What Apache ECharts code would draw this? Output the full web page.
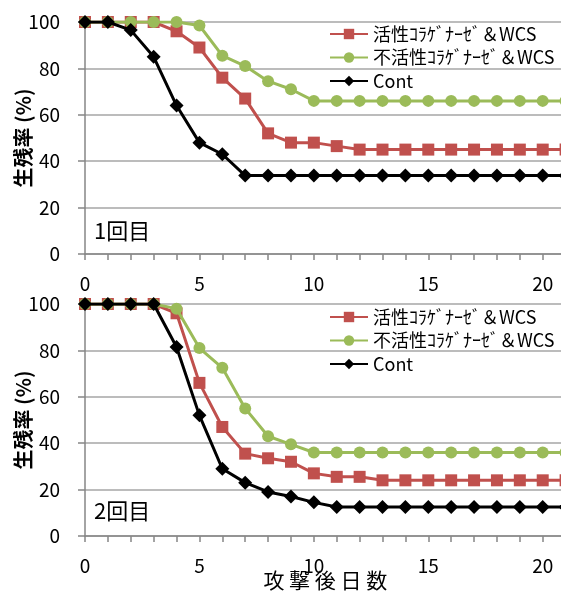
<!DOCTYPE html>
<html>
<head>
<meta charset="utf-8">
<script src="https://cdn.jsdelivr.net/npm/echarts@6/dist/echarts.min.js"></script>
<style>
  html, body { margin: 0; padding: 0; background: #fff; }
  #chart { width: 561px; height: 591px; }
</style>
</head>
<body>
<div id="chart"></div>
<script>
// days after attack
const days = [0, 1, 2, 3, 4, 5, 6, 7, 8, 9, 10, 11, 12, 13, 14, 15, 16, 17, 18, 19, 20, 21];
const seriesNames = ['活性ｺﾗｹﾞﾅｰｾﾞ＆WCS', '不活性ｺﾗｹﾞﾅｰｾﾞ＆WCS', 'Cont'];
const panelLabels = ['1回目', '2回目'];
const yTicks = [0, 20, 40, 60, 80, 100];

// 1回目
const active1 = [100, 100, 100, 100, 96, 89, 76, 67, 52, 48, 48, 46.5, 45, 45, 45, 45, 45, 45, 45, 45, 45, 45];
const inactive1 = [100, 100, 100, 100, 100, 98.5, 85.5, 81, 74.5, 71, 66, 66, 66, 66, 66, 66, 66, 66, 66, 66, 66, 66];
const cont1 = [100, 100, 96.5, 85, 64, 48, 43, 33.8, 33.8, 33.8, 33.8, 33.8, 33.8, 33.8, 33.8, 33.8, 33.8, 33.8, 33.8, 33.8, 33.8, 33.8];

// 2回目
const active2 = [100, 100, 100, 100, 96, 66, 47, 35.5, 33.5, 32, 27, 25.5, 25.5, 24, 24, 24, 24, 24, 24, 24, 24, 24];
const inactive2 = [100, 100, 100, 100, 98, 81, 72.5, 55, 43, 39.5, 36, 36, 36, 36, 36, 36, 36, 36, 36, 36, 36, 36];
const cont2 = [100, 100, 100, 100, 81.5, 52, 29, 23, 19, 17, 14.5, 12.5, 12.5, 12.5, 12.5, 12.5, 12.5, 12.5, 12.5, 12.5, 12.5, 12.5];

const colors = ['#C0504D', '#9BBB59', '#000000'];
const symbols = ['rect', 'circle', 'diamond'];
const symbolSizes = [12, 12, 14];
const FONT = "'Noto Sans CJK JP', sans-serif";

const pair = vals => days.map((d, i) => [d, vals[i]]);

const chart = echarts.init(document.getElementById('chart'));

function makeSeries(vals, idx, grid) {
  return {
    name: seriesNames[idx],
    type: 'line',
    xAxisIndex: grid,
    yAxisIndex: grid,
    data: pair(vals),
    symbol: symbols[idx],
    symbolSize: symbolSizes[idx],
    showAllSymbol: true,
    color: colors[idx],
    lineStyle: { width: 3, color: colors[idx] },
    itemStyle: { color: colors[idx] },
    z: 2 + idx
  };
}

function xAxis(grid, withName) {
  return {
    type: 'value',
    gridIndex: grid,
    min: 0,
    max: 21,
    interval: 1,
    axisLine: { onZero: false, lineStyle: { color: '#868686', width: 1.5 } },
    axisTick: { show: true, length: 6, lineStyle: { color: '#868686', width: 1.5 } },
    splitLine: { show: false },
    axisLabel: {
      margin: 20,
      fontSize: 19,
      color: '#000',
      fontFamily: FONT,
      showMaxLabel: false,
      formatter: v => (v % 5 === 0 ? String(v) : '')
    },
    name: withName ? '攻 撃 後 日 数' : '',
    nameLocation: 'middle',
    nameMoveOverlap: false,
    nameGap: 34,
    nameTextStyle: { fontSize: 21, color: '#000', fontFamily: FONT }
  };
}

function yAxis(grid) {
  return {
    type: 'value',
    gridIndex: grid,
    min: yTicks[0],
    max: yTicks[yTicks.length - 1],
    interval: 20,
    axisLine: { show: true, lineStyle: { color: '#868686', width: 1.5 } },
    axisTick: { show: true, length: 7, lineStyle: { color: '#868686', width: 1.5 } },
    splitLine: { show: true, lineStyle: { color: '#a6a6a6', width: 1.5 } },
    axisLabel: { margin: 25, fontSize: 19, color: '#000', fontFamily: FONT },
    name: '生残率 (%)',
    nameLocation: 'middle',
    nameMoveOverlap: false,
    nameRotate: 90,
    nameGap: 52,
    nameTextStyle: { fontSize: 20, fontWeight: 'bold', color: '#000', fontFamily: FONT }
  };
}

function legend(top) {
  return {
    data: seriesNames,
    orient: 'vertical',
    left: 329,
    top: top,
    padding: 0,
    itemWidth: 38,
    itemHeight: 13,
    itemGap: 5.5,
    textStyle: { fontSize: 18, color: '#000', fontFamily: FONT },
    selectedMode: false
  };
}

chart.setOption({
  animation: false,
  textStyle: { fontFamily: FONT },
  title: [
    { text: panelLabels[0], left: 89, top: 215, textStyle: { fontSize: 22, fontWeight: 'normal', color: '#000', fontFamily: FONT } },
    { text: panelLabels[1], left: 89, top: 495, textStyle: { fontSize: 22, fontWeight: 'normal', color: '#000', fontFamily: FONT } }
  ],
  legend: [legend(25), legend(308)],
  grid: [
    { left: 85, top: 22, height: 232, right: -4.6, containLabel: false, outerBoundsMode: 'none' },
    { left: 85, top: 304, height: 232, right: -4.6, containLabel: false, outerBoundsMode: 'none' }
  ],
  xAxis: [xAxis(0, false), xAxis(1, true)],
  yAxis: [yAxis(0), yAxis(1)],
  series: [
    makeSeries(active1, 0, 0),
    makeSeries(inactive1, 1, 0),
    makeSeries(cont1, 2, 0),
    makeSeries(active2, 0, 1),
    makeSeries(inactive2, 1, 1),
    makeSeries(cont2, 2, 1)
  ]
});
</script>
</body>
</html>
